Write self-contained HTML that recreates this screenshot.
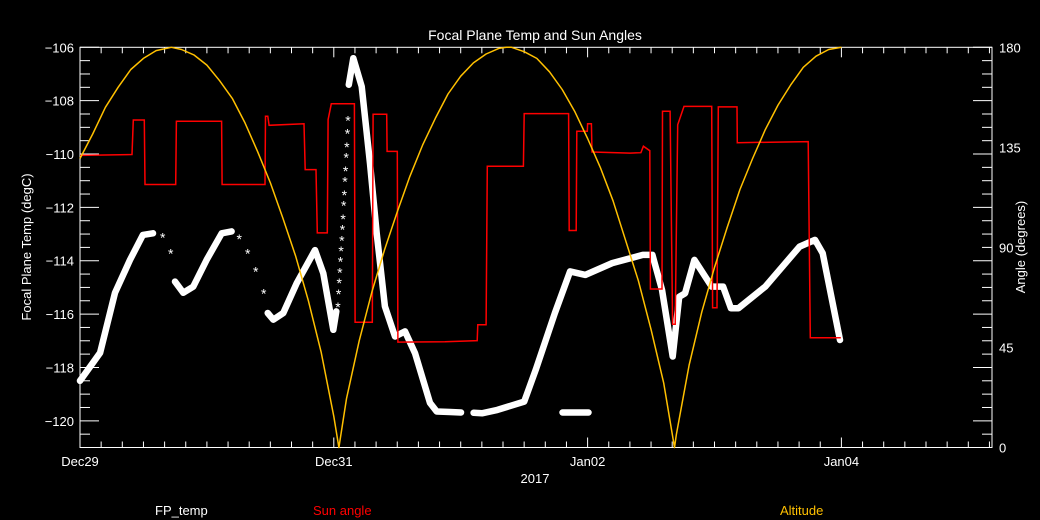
<!DOCTYPE html>
<html><head><meta charset="utf-8"><style>
html,body{margin:0;padding:0;background:#000;}
svg{display:block;font-family:"Liberation Sans",sans-serif;}
</style></head><body>
<svg id="chart" width="1040" height="520" viewBox="0 0 1040 520" xmlns="http://www.w3.org/2000/svg">
<rect width="1040" height="520" fill="#000"/>
<text x="535" y="40" fill="#fff" font-size="14" text-anchor="middle">Focal Plane Temp and Sun Angles</text>
<text x="535" y="483" fill="#fff" font-size="13" text-anchor="middle">2017</text>
<text transform="translate(31,247) rotate(-90)" fill="#fff" font-size="13" text-anchor="middle">Focal Plane Temp (degC)</text>
<text transform="translate(1025,247) rotate(-90)" fill="#fff" font-size="13" text-anchor="middle">Angle (degrees)</text>
<text x="155" y="515" fill="#fff" font-size="13">FP_temp</text>
<text x="313" y="515" fill="#ff0000" font-size="13">Sun angle</text>
<text x="780" y="515" fill="#ffc000" font-size="13">Altitude</text>
<g id="plot"></g>
</svg>
<script>
// x-axis categories (days from Dec29)
const xTickDays = [0, 2, 4, 6];
const xTickLabels = ["Dec29", "Dec31", "Jan02", "Jan04"];
const yTickTemps = [-106, -108, -110, -112, -114, -116, -118, -120];
const angleTicks = [0, 45, 90, 135, 180];

// Altitude series
const altT = [0,0.1,0.2,0.3,0.4,0.5,0.6,0.72,0.8,0.9,1.0,1.1,1.2,1.3,1.4,1.5,1.6,1.7,1.8,1.9,2.0,2.04,2.1,2.2,2.3,2.4,2.5,2.6,2.7,2.8,2.9,3.0,3.1,3.2,3.3,3.36,3.4,3.5,3.6,3.7,3.8,3.9,4.0,4.1,4.2,4.3,4.4,4.5,4.6,4.685,4.7,4.8,4.9,5.0,5.1,5.2,5.3,5.4,5.5,5.6,5.7,5.8,5.9,6.0];
const altV = [130,141,153,162,170,175,178.5,180,179,176.5,172,165,157,146,133,119,103,86,66,43,14,0,22,48,70,89,106,122,136,148,159,167,173,177,179.5,180,180,178,175,169,161,151,139,126,111,93,75,53,29,0,6,37,61,81,99,116,130,143,154,163,171,176,179,180];

// Sun angle series (step trace)
const sunT = [0,0.41,0.42,0.507,0.512,0.754,0.76,1.116,1.12,1.458,1.462,1.48,1.49,1.765,1.775,1.86,1.87,1.949,1.955,1.98,2.162,2.168,2.303,2.31,2.417,2.42,2.50,2.505,2.876,3.13,3.135,3.20,3.21,3.494,3.50,3.85,3.855,3.91,3.915,3.998,4.0,4.03,4.035,4.335,4.42,4.44,4.49,4.495,4.586,4.59,4.65,4.67,4.69,4.71,4.76,4.978,4.985,5.02,5.03,5.06,5.177,5.18,5.738,5.755,5.995];
const sunV = [131.4,131.8,147.3,147.3,118.3,118.3,146.7,146.7,118.3,118.3,149,149,144.9,145.6,125,125,96.5,96.5,147.5,154.6,154.6,56.3,56.3,149.9,149.9,133.2,133.2,47.4,47.6,48.1,55.2,55.2,126.5,126.5,150.2,150.2,97.6,97.6,142.2,142.2,145.6,145.6,132.9,132.4,132.6,135.5,133.5,71.3,71.3,151.2,151.2,55.4,55.4,145.2,153.4,153.4,62.9,62.9,153.2,153.2,153.2,137.1,137.6,49.4,49.4];

// FP_temp series: dense segments
const fpSegT = [
 [0,0.158,0.276,0.394,0.496,0.575],
 [0.749,0.814,0.893,0.998,1.117,1.195],
 [1.479,1.523,1.602,1.708,1.852,1.917,1.996,2.02],
 [2.118,2.154,2.220,2.285,2.338,2.403,2.482,2.561,2.640,2.758,2.811,2.916,3.002],
 [3.102,3.168,3.289,3.500,3.591,3.742,3.862,3.983,4.194,4.435,4.511,4.586,4.671,4.722,4.768,4.842,4.978,5.068,5.129,5.189,5.400,5.671,5.792,5.853,5.989],
 [3.802,4.007]
];
const fpSegV = [
 [-118.5,-117.45,-115.2,-113.97,-113.03,-112.97],
 [-114.78,-115.2,-114.97,-113.97,-112.97,-112.9],
 [-115.96,-116.21,-115.96,-114.84,-113.6,-114.47,-116.59,-115.9],
 [-107.4,-106.41,-107.47,-110.35,-112.97,-115.71,-116.84,-116.65,-117.46,-119.33,-119.65,-119.67,-119.69],
 [-119.7,-119.72,-119.59,-119.28,-118.09,-115.96,-114.4,-114.53,-114.09,-113.78,-113.78,-115.09,-117.59,-115.35,-115.22,-113.97,-114.97,-114.97,-115.78,-115.78,-114.97,-113.47,-113.22,-113.72,-116.97],
 [-119.69,-119.69]
];
// sparse FP_temp samples drawn as asterisks
const fpStarT = [0.652,0.715,1.255,1.322,1.385,1.448,2.033,2.038,2.043,2.048,2.053,2.058,2.063,2.068,2.073,2.078,2.083,2.088,2.093,2.098,2.103,2.108,2.112];
const fpStarV = [-113.1,-113.7,-113.15,-113.7,-114.37,-115.19,-115.7,-115.2,-114.8,-114.4,-114.0,-113.6,-113.2,-112.8,-112.4,-111.9,-111.5,-111.0,-110.6,-110.1,-109.7,-109.2,-108.7];

const L=80, R=992, T=47.3, B=447.5;
const PXDAY=126.9;
function xs(t){return L + t*PXDAY;}
function ys(v){return T + (-106 - v)/15*(B-T);}
function ya(a){return B - a/180*(B-T);}
const NS="http://www.w3.org/2000/svg";
const plot=document.getElementById('plot');
function mk(tag,attrs){const e=document.createElementNS(NS,tag);for(const k in attrs)e.setAttribute(k,attrs[k]);plot.appendChild(e);return e;}

const box=mk('rect',{x:L,y:T,width:R-L,height:B-T,fill:'none',stroke:'#fff','stroke-width':1});



for(let i=0;i*PXDAY/6+L<=R;i++){
  const x=L+i*PXDAY/6; const len=(i%12===0)?10:6;
  const t1=mk('line',{x1:x,y1:B,x2:x,y2:B-len,stroke:'#fff'});
  
  
  const t2=mk('line',{x1:x,y1:T,x2:x,y2:T+len,stroke:'#fff'});
  
  
}
xTickDays.forEach((d,i)=>{
  const tx=mk('text',{x:xs(d),y:466,fill:'#fff','font-size':13,'text-anchor':'middle'});
  tx.textContent=xTickLabels[i];
  
  
});
for(let v=-106;v>=-121;v-=0.5){
  const y=ys(v); const major=(Math.round(v)===v && v%2===0);
  const len=major?19:10;
  const a=mk('line',{x1:L,y1:y,x2:L+len,y2:y,stroke:'#fff'});
  
  
  const b=mk('line',{x1:R,y1:y,x2:R-len,y2:y,stroke:'#fff'});
  
  
}
yTickTemps.forEach(v=>{
  const tx=mk('text',{x:L-6,y:ys(v)+5,fill:'#fff','font-size':13,'text-anchor':'end'});
  tx.textContent='\u2212'+Math.abs(v);
  
  
});
angleTicks.forEach(a=>{
  const tx=mk('text',{x:R+7,y:ya(a)+5,fill:'#fff','font-size':13});
  tx.textContent=a;
  
  
});

fpSegT.forEach((seg,si)=>{
  const pts=seg.map((t,i)=>xs(t).toFixed(1)+','+ys(fpSegV[si][i]).toFixed(1)).join(' ');
  const p=mk('polyline',{points:pts,fill:'none',stroke:'#fff','stroke-width':6.5,'stroke-linejoin':'round','stroke-linecap':'round'});
  
  
});
fpStarT.forEach((t,i)=>{
  const s=mk('text',{x:xs(t),y:ys(fpStarV[i])+6,fill:'#fff','font-size':14,'text-anchor':'middle'});
  s.textContent='*';
  
  
});

const sunPts=sunT.map((t,i)=>xs(t).toFixed(1)+','+ya(sunV[i]).toFixed(1)).join(' ');
const sun=mk('polyline',{points:sunPts,fill:'none',stroke:'#ff0000','stroke-width':1.5});



const altPts=altT.map((t,i)=>xs(t).toFixed(1)+','+ya(altV[i]).toFixed(1)).join(' ');
const alt=mk('polyline',{points:altPts,fill:'none',stroke:'#ffc000','stroke-width':1.5,'stroke-linejoin':'round'});


</script>
</body></html>
